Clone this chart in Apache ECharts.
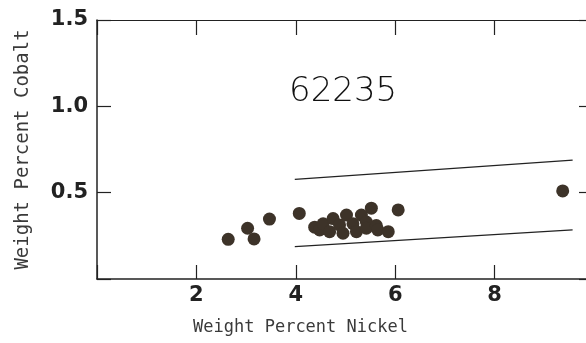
<!DOCTYPE html>
<html>
<head>
<meta charset="utf-8">
<script src="https://cdn.jsdelivr.net/npm/echarts@6/dist/echarts.min.js"></script>
<style>
  html, body { margin: 0; padding: 0; background: #fff; }
  #chart { width: 586px; height: 343px; }
</style>
</head>
<body>
<div id="chart"></div>
<script>
// sample 62235 - Ni vs Co analyses
var nickel = [2.64, 3.03, 3.16, 3.47, 4.07, 4.38, 4.48, 4.55, 4.68, 4.75, 4.88, 4.95,
              5.02, 5.15, 5.22, 5.32, 5.42, 5.42, 5.52, 5.62, 5.65, 5.86, 6.06, 9.37];
var cobalt = [0.23, 0.294, 0.232, 0.347, 0.38, 0.30, 0.284, 0.32, 0.274, 0.35, 0.313, 0.265,
              0.37, 0.32, 0.274, 0.37, 0.33, 0.294, 0.41, 0.31, 0.284, 0.274, 0.40, 0.51];
var upperLine = [[3.98, 0.577], [9.57, 0.689]];
var lowerLine = [[3.98, 0.187], [9.57, 0.284]];
var sampleName = '62235';

var points = nickel.map(function (x, i) { return [x, cobalt[i]]; });

var axisColor = '#222';
var tickFont = { fontFamily: 'DejaVu Sans', fontWeight: 'bold', fontSize: 21, color: '#222' };

var myChart = echarts.init(document.getElementById('chart'));
var option = {
    backgroundColor: '#fff',
    animation: false,
    // right edge of the box is just off the picture (x = 10)
    grid: { left: 97, top: 20, width: 497, height: 259, outerBoundsMode: 'none', containLabel: false },
    xAxis: [{
        type: 'value', min: 0, max: 10, interval: 2, position: 'bottom',
        name: 'Weight Percent Nickel', nameLocation: 'middle', nameGap: 40,
        nameTextStyle: { fontFamily: 'DejaVu Sans Mono', fontSize: 17, color: '#3a3a3a', padding: [0, 90, 0, 0] },
        axisLine: { onZero: false, lineStyle: { color: axisColor, width: 1.5 } },
        axisTick: { show: true, inside: true, length: 14, lineStyle: { color: axisColor, width: 1.2 } },
        axisLabel: Object.assign({ margin: 6, formatter: function (v) { return (v === 0 || v === 10) ? '' : v; } }, tickFont),
        splitLine: { show: false }
    }, {
        type: 'value', min: 0, max: 10, interval: 2, position: 'top',
        axisLine: { onZero: false, lineStyle: { color: axisColor, width: 1.2 } },
        axisTick: { show: true, inside: true, length: 15, lineStyle: { color: axisColor, width: 1.2 } },
        axisLabel: { show: false },
        splitLine: { show: false }
    }],
    yAxis: [{
        type: 'value', min: 0, max: 1.5, interval: 0.5, position: 'left',
        name: 'Weight Percent Cobalt', nameLocation: 'middle', nameGap: 64,
        nameTextStyle: { fontFamily: 'DejaVu Sans Mono', fontSize: 19, color: '#3a3a3a' },
        axisLine: { onZero: false, lineStyle: { color: axisColor, width: 1.5 } },
        axisTick: { show: true, inside: true, length: 14, lineStyle: { color: axisColor, width: 1.2 } },
        axisLabel: Object.assign({ margin: 9, formatter: function (v) { return v === 0 ? '' : v.toFixed(1); } }, tickFont),
        splitLine: { show: false }
    }, {
        type: 'value', min: 0, max: 1.5, interval: 0.5, position: 'right',
        axisLine: { onZero: false, lineStyle: { color: axisColor, width: 1.2 } },
        axisTick: { show: true, inside: true, length: 15, lineStyle: { color: axisColor, width: 1.2 } },
        axisLabel: { show: false },
        splitLine: { show: false }
    }],
    graphic: [{
        type: 'text', left: 289, top: 75,
        style: { text: sampleName, fontFamily: 'DejaVu Sans', fontWeight: 200, fontSize: 34, fill: '#111' }
    }],
    series: [{
        type: 'line', data: upperLine, symbol: 'none',
        lineStyle: { color: '#222', width: 1.2 }
    }, {
        type: 'line', data: lowerLine, symbol: 'none',
        lineStyle: { color: '#222', width: 1.2 }
    }, {
        type: 'scatter', data: points, symbolSize: 13,
        itemStyle: { color: '#3d3329', opacity: 1 }
    }]
};
myChart.setOption(option);
</script>
</body>
</html>
